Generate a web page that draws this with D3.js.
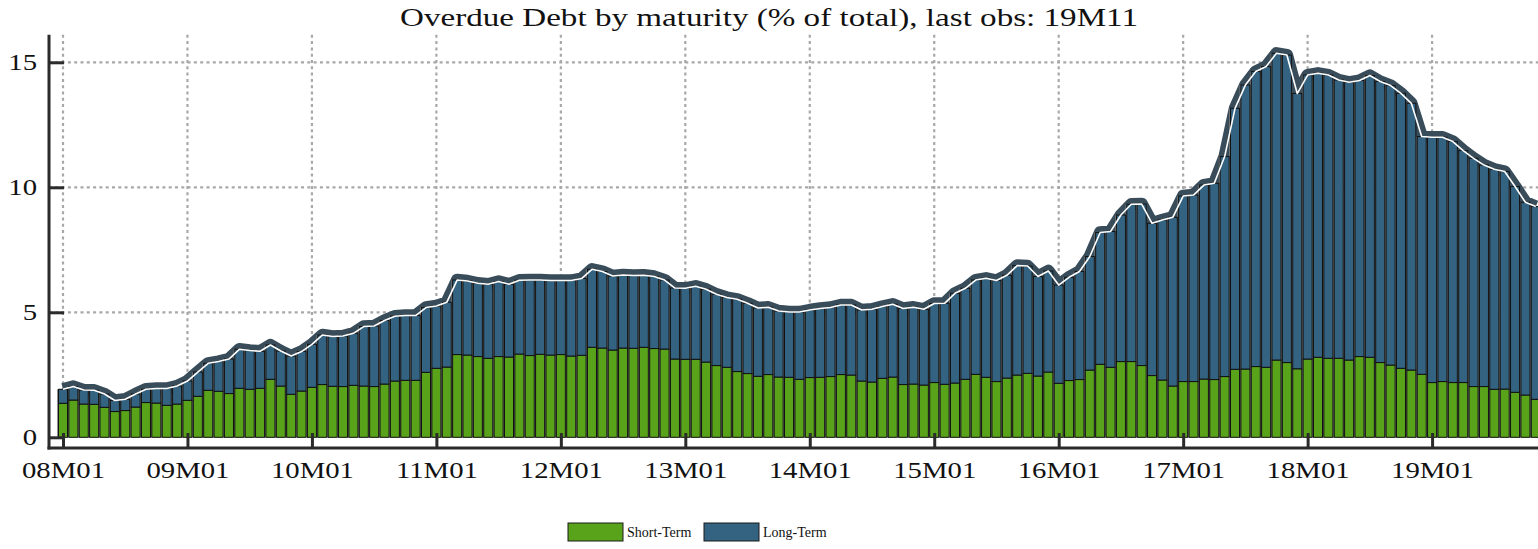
<!DOCTYPE html>
<html><head><meta charset="utf-8">
<script src="https://cdn.jsdelivr.net/npm/d3@7"></script>
<style>body{margin:0;background:#fff} svg{display:block} text{font-family:"Liberation Serif","Times New Roman",serif;fill:#111}</style>
</head><body><svg id="c" width="1538" height="549"></svg>
<script>
const titleText = "Overdue Debt by maturity (% of total), last obs: 19M11";
const startYear = 8, nMonths = 143;
const months = d3.range(nMonths).map(i => String(startYear + Math.floor(i / 12)).padStart(2, "0") + "M" + String(i % 12 + 1).padStart(2, "0"));
const shortTerm = [
1.36,1.49,1.33,1.32,1.20,1.03,1.07,1.21,1.39,1.37,1.28,1.33,
1.48,1.64,1.88,1.84,1.75,1.96,1.92,1.96,2.32,2.05,1.72,1.85,
2.00,2.11,2.04,2.03,2.08,2.05,2.03,2.13,2.25,2.28,2.28,2.60,
2.76,2.81,3.31,3.29,3.23,3.16,3.23,3.21,3.33,3.27,3.32,3.29,
3.31,3.25,3.28,3.60,3.57,3.49,3.57,3.56,3.60,3.55,3.53,3.13,
3.12,3.12,3.01,2.87,2.80,2.63,2.55,2.44,2.51,2.41,2.40,2.32,
2.39,2.40,2.43,2.51,2.49,2.25,2.21,2.36,2.41,2.11,2.13,2.09,
2.19,2.12,2.17,2.32,2.52,2.40,2.23,2.37,2.49,2.56,2.45,2.61,
2.16,2.27,2.31,2.69,2.92,2.80,3.03,3.03,2.87,2.47,2.29,2.05,
2.23,2.23,2.33,2.31,2.43,2.72,2.73,2.83,2.80,3.09,2.99,2.74,
3.13,3.20,3.16,3.16,3.09,3.23,3.20,2.99,2.89,2.76,2.69,2.52,
2.19,2.23,2.19,2.19,2.03,2.03,1.92,1.93,1.80,1.69,1.52];
const longTerm = [
0.56,0.54,0.56,0.56,0.53,0.44,0.45,0.52,0.53,0.58,0.67,0.72,
0.77,0.97,1.08,1.19,1.38,1.56,1.55,1.48,1.37,1.40,1.53,1.58,
1.72,1.98,1.99,2.02,2.08,2.38,2.42,2.54,2.59,2.59,2.59,2.59,
2.49,2.59,2.98,2.96,2.93,2.96,3.00,2.91,2.95,3.02,2.97,2.98,
2.96,3.02,3.07,3.12,3.06,2.96,2.92,2.91,2.88,2.88,2.76,2.84,
2.84,2.92,2.91,2.85,2.79,2.89,2.81,2.73,2.69,2.64,2.61,2.69,
2.70,2.75,2.76,2.78,2.80,2.84,2.91,2.87,2.91,3.04,3.07,3.03,
3.16,3.24,3.59,3.64,3.77,3.96,4.04,4.11,4.38,4.29,3.98,4.04,
3.93,4.13,4.32,4.54,5.27,5.43,5.86,6.29,6.46,6.09,6.40,6.75,
7.42,7.46,7.76,7.85,8.80,10.44,11.36,11.80,12.03,12.27,12.30,11.01,
11.36,11.36,11.33,11.13,11.11,11.04,11.27,11.24,11.18,11.00,10.67,9.51,
9.81,9.77,9.64,9.28,9.13,8.86,8.80,8.70,8.23,7.71,7.71];
const yTicks = [0, 5, 10, 15];
const xTickLabels = ["08M01","09M01","10M01","11M01","12M01","13M01","14M01","15M01","16M01","17M01","18M01","19M01"];
const seriesNames = ["Short-Term", "Long-Term"];
const seriesColors = ["#58a31a", "#346382"];

const svg = d3.select("#c");
const W = 1538;
const axisX = 49, axisY = 448;
const stretch = 1.25;
const x = d3.scalePoint().domain(months).range([63, 1535.8]);
const y = d3.scaleLinear().domain([0, 16.1]).range([437.3, 34.8]);
const bw = x.step() * 0.87;

const data = months.map((m, i) => ({m, s: shortTerm[i], l: longTerm[i], t: shortTerm[i] + longTerm[i]}));

function widen(sel, k) {
  sel.each(function () {
    const n = this.getComputedTextLength();
    d3.select(this).attr("textLength", n * k).attr("lengthAdjust", "spacingAndGlyphs");
  });
}

// grid
const grid = svg.append("g").attr("stroke", "#a8a8a8").attr("stroke-width", 2.2).attr("stroke-dasharray", "3,3.3");
grid.selectAll("line.v").data(xTickLabels).join("line").attr("class", "v")
  .attr("x1", d => x(d)).attr("x2", d => x(d)).attr("y1", y(16.1)).attr("y2", y(0));
grid.selectAll("line.h").data(yTicks.filter(v => v > 0)).join("line").attr("class", "h")
  .attr("x1", axisX).attr("x2", W).attr("y1", d => y(d)).attr("y2", d => y(d));

// total dark line (behind bars)
const lineGen = d3.line().x(d => x(d.m)).y(d => y(d.t)).curve(d3.curveLinear);
svg.append("path").datum(data).attr("d", lineGen).attr("fill", "none")
  .attr("stroke", "#384c5a").attr("stroke-width", 12.5).attr("stroke-linejoin", "round").attr("stroke-linecap", "butt");

// shadows
svg.append("g").selectAll("rect").data(data).join("rect")
  .attr("x", d => x(d.m) - bw / 2 - 1.3).attr("width", bw)
  .attr("y", d => y(d.t)).attr("height", d => y(0) - y(d.t)).attr("fill", "#7a7a7a");

// bars
const bars = svg.append("g").attr("stroke", "#111").attr("stroke-width", 1);
bars.selectAll("rect.s").data(data).join("rect").attr("class", "s")
  .attr("x", d => x(d.m) - bw / 2).attr("width", bw)
  .attr("y", d => y(d.s)).attr("height", d => y(0) - y(d.s)).attr("fill", seriesColors[0]);
bars.selectAll("rect.l").data(data).join("rect").attr("class", "l")
  .attr("x", d => x(d.m) - bw / 2).attr("width", bw)
  .attr("y", d => y(d.t)).attr("height", d => y(d.s) - y(d.t)).attr("fill", seriesColors[1]);

// white core line
svg.append("path").datum(data).attr("d", lineGen).attr("fill", "none")
  .attr("stroke", "#ffffff").attr("stroke-width", 1.6).attr("stroke-linejoin", "round");

// axes
const yAxis = svg.append("g").attr("transform", `translate(${axisX},0)`)
  .call(d3.axisLeft(y).tickValues(yTicks).tickSize(-15).tickPadding(12).tickFormat(d3.format("d")));
yAxis.select(".domain").remove();
yAxis.selectAll(".tick line").attr("stroke", "#2b2b2b").attr("stroke-width", 3);
yAxis.selectAll(".tick text").attr("font-size", 23).attr("font-family", "Liberation Serif").attr("fill", "#111").call(widen, stretch);

const xAxis = svg.append("g").attr("transform", `translate(0,${axisY})`)
  .call(d3.axisBottom(x).tickValues(xTickLabels).tickSize(-15).tickPadding(14));
xAxis.select(".domain").remove();
xAxis.selectAll(".tick line").attr("stroke", "#2b2b2b").attr("stroke-width", 3);
xAxis.selectAll(".tick text").attr("font-size", 23).attr("font-family", "Liberation Serif").attr("fill", "#111").call(widen, stretch);

svg.append("line").attr("x1", axisX).attr("x2", axisX).attr("y1", y(16.1)).attr("y2", axisY + 1.5)
  .attr("stroke", "#2b2b2b").attr("stroke-width", 3);
svg.append("line").attr("x1", axisX - 1.5).attr("x2", W).attr("y1", axisY).attr("y2", axisY)
  .attr("stroke", "#2b2b2b").attr("stroke-width", 3);

// title
svg.append("text").attr("x", 769).attr("y", 26).attr("text-anchor", "middle")
  .attr("font-size", 25).text(titleText).attr("textLength", 738).attr("lengthAdjust", "spacingAndGlyphs");

// legend
const legX = [568, 704];
const leg = svg.append("g");
seriesNames.forEach((n, i) => {
  leg.append("rect").attr("x", legX[i]).attr("y", 523).attr("width", 55).attr("height", 18)
    .attr("fill", seriesColors[i]).attr("stroke", "#1a1a1a").attr("stroke-width", 1);
  leg.append("text").attr("x", legX[i] + 59).attr("y", 537).attr("font-size", 14).text(n);
});
</script></body></html>
